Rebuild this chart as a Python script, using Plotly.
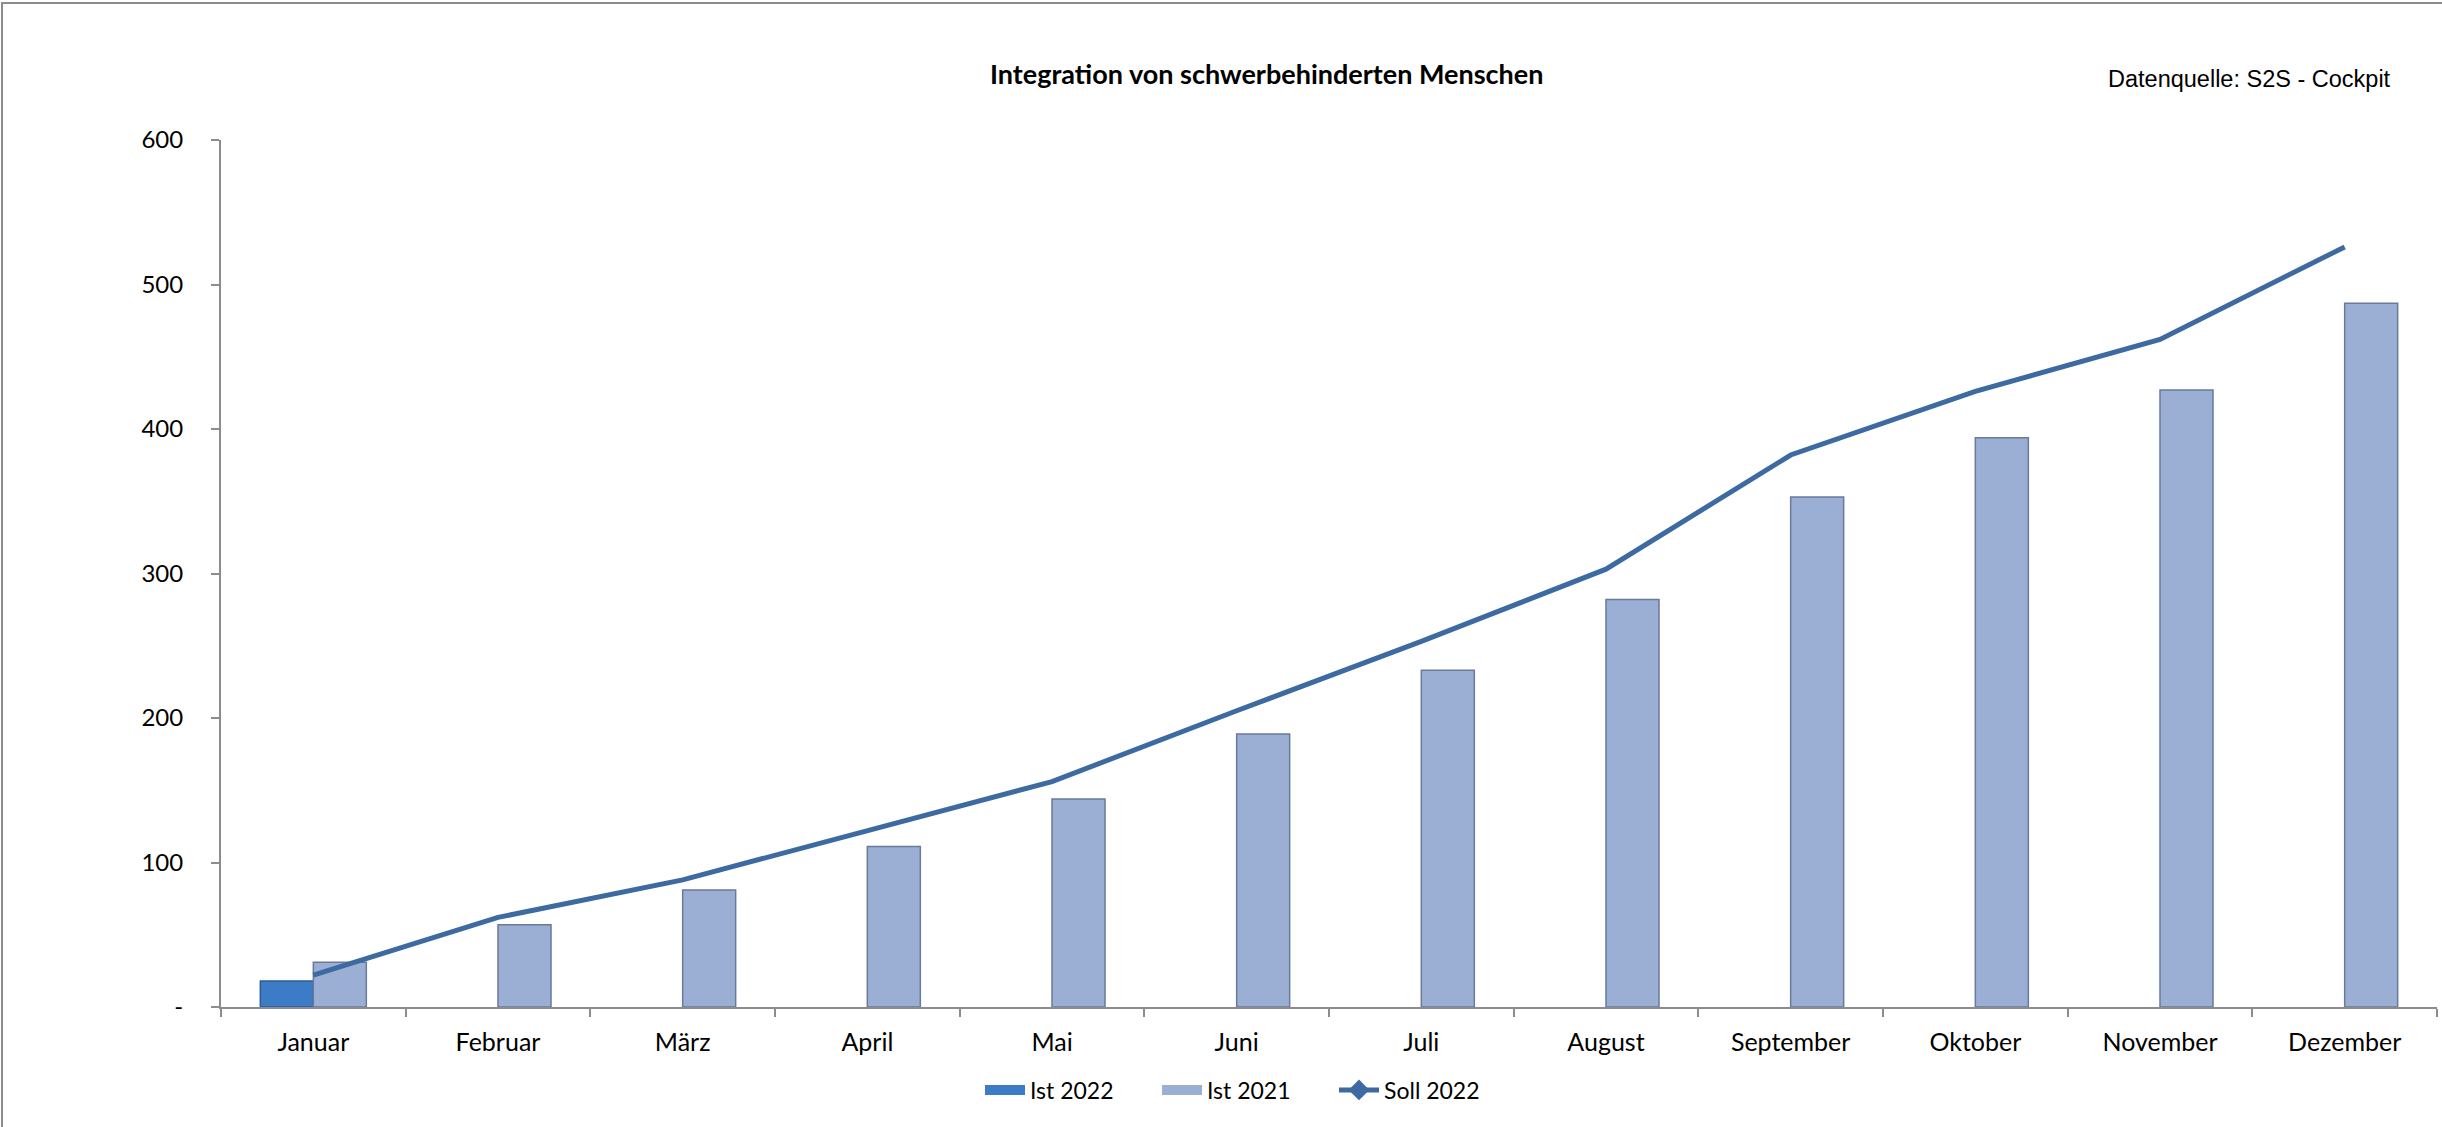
import plotly.graph_objects as go

months = ["Januar", "Februar", "März", "April", "Mai", "Juni", "Juli",
          "August", "September", "Oktober", "November", "Dezember"]
ist_2022 = [18, None, None, None, None, None, None, None, None, None, None, None]
ist_2021 = [31, 57, 81, 111, 144, 189, 233, 282, 353, 394, 427, 487]
soll_2022 = [22, 62, 88, 122, 156, 205, 253, 303, 382, 426, 462, 526]
y_tickvals = [0, 100, 200, 300, 400, 500, 600]
y_ticktext = ["-", "100", "200", "300", "400", "500", "600"]

W, H = 2442, 1127
L, R, T, B = 221, 5, 140, 120
pw, ph = W - L - R, H - T - B

c22, c22l = "#3C7BC6", "#2B5C99"
c21, c21l = "#9BAED4", "#6A7A9C"
cline = "#3D6AA0"

fig = go.Figure()
fig.add_trace(go.Bar(
    x=months, y=ist_2022, name="Ist 2022", showlegend=False,
    marker=dict(color=c22, line=dict(color=c22l, width=1.5)),
))
fig.add_trace(go.Bar(
    x=months, y=ist_2021, name="Ist 2021", showlegend=False,
    marker=dict(color=c21, line=dict(color=c21l, width=1.5)),
))
fig.add_trace(go.Scatter(
    x=months, y=soll_2022, name="Soll 2022", mode="lines",
    line=dict(color=cline, width=5), showlegend=False,
))
# legend entries (wide bar swatches and a line with diamond marker)
fig.add_trace(go.Scatter(x=[None], y=[None], name="Ist 2022", mode="lines",
                         line=dict(color=c22, width=14)))
fig.add_trace(go.Scatter(x=[None], y=[None], name="Ist 2021", mode="lines",
                         line=dict(color=c21, width=14)))
fig.add_trace(go.Scatter(
    x=[None], y=[None], name="Soll 2022", mode="lines+markers",
    line=dict(color=cline, width=5),
    marker=dict(symbol="diamond", size=16, color=cline),
))

axis_col = "#8C8C8C"
fig.update_layout(
    width=W, height=H,
    margin=dict(l=L, r=R, t=T, b=B),
    paper_bgcolor="white", plot_bgcolor="white",
    barmode="group", bargap=0.426, bargroupgap=0,
    font=dict(family="Lato", size=24, color="#000000"),
    showlegend=True,
    legend=dict(orientation="h", x=(980 - L) / pw, xanchor="left",
                y=-(1090 - (H - B)) / ph, yanchor="middle",
                font=dict(size=23), traceorder="normal",
                itemwidth=40, tracegroupgap=0,
                entrywidth=122, entrywidthmode="pixels"),
    xaxis=dict(type="category", showline=True, linecolor=axis_col, linewidth=2,
               ticks="outside", tickson="boundaries", ticklen=8, tickcolor=axis_col,
               tickwidth=2, showgrid=False, zeroline=False,
               tickfont=dict(size=25), range=[-0.5, 11.5], ticklabelstandoff=12),
    yaxis=dict(range=[0, 600], tickvals=y_tickvals, ticktext=y_ticktext,
               showline=True, linecolor=axis_col, linewidth=2, ticks="outside",
               ticklen=8, tickcolor=axis_col, tickwidth=2, showgrid=False,
               zeroline=False, tickfont=dict(size=24), ticklabelstandoff=23),
    annotations=[
        dict(text="<b>Integration von schwerbehinderten Menschen</b>",
             xref="paper", yref="paper", x=(1266 - L) / pw, y=1 + (T - 73) / ph,
             xanchor="center", yanchor="middle", showarrow=False,
             font=dict(family="Lato", size=27, color="#000000")),
        dict(text="Datenquelle: S2S - Cockpit",
             xref="paper", yref="paper", x=(2393 - L) / pw, y=1 + (T - 79) / ph,
             xanchor="right", yanchor="middle", showarrow=False,
             font=dict(family="Liberation Sans", size=23.5, color="#000000")),
    ],
    shapes=[
        dict(type="rect", xref="paper", yref="paper",
             x0=(2 - L) / pw, x1=1 + (R + 20) / pw,
             y0=-(B + 20) / ph, y1=1 + (T - 3) / ph,
             line=dict(color="#8C8C8C", width=2), fillcolor="rgba(0,0,0,0)",
             layer="below"),
    ],
)

fig.write_html("out.html", config={"displayModeBar": False},
               post_script="document.body.style.margin='0';")
